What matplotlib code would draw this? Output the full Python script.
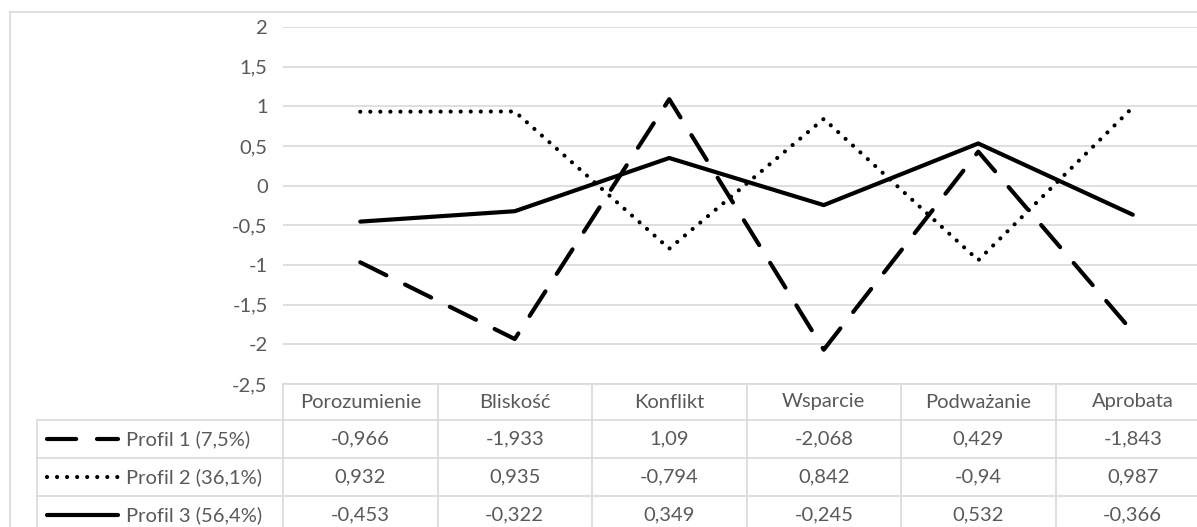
import matplotlib
matplotlib.use("Agg")
import matplotlib.pyplot as plt

categories = ["Porozumienie", "Bliskość", "Konflikt", "Wsparcie", "Podważanie", "Aprobata"]
series_names = ["Profil 1 (7,5%)", "Profil 2 (36,1%)", "Profil 3 (56,4%)"]
profil1 = [-0.966, -1.933, 1.09, -2.068, 0.429, -1.843]
profil2 = [0.932, 0.935, -0.794, 0.842, -0.94, 0.987]
profil3 = [-0.453, -0.322, 0.349, -0.245, 0.532, -0.366]
y_ticks = [2, 1.5, 1, 0.5, 0, -0.5, -1, -1.5, -2, -2.5]

series = [profil1, profil2, profil3]
grid_c = "#d9d9d9"
text_c = "#595959"
fs = 14.5
plt.rcParams["font.family"] = ["Lato", "DejaVu Sans"]

W, H = 1197, 527
fig = plt.figure(figsize=(W / 100, H / 100), dpi=100)

# pixel-space overlay for borders and data table
ov = fig.add_axes([0, 0, 1, 1])
ov.set_xlim(0, W)
ov.set_ylim(H, 0)
ov.axis("off")

# plot area in pixels
left, right, top, bottom = 283, 1210, 27, 384
ax = fig.add_axes([left / W, 1 - bottom / H, (right - left) / W, (bottom - top) / H])
ax.set_xlim(-0.5, len(categories) - 0.5)
ax.set_ylim(-2.5, 2)
ax.set_yticks(y_ticks)
ax.set_yticklabels([f"{t:g}".replace(".", ",") for t in y_ticks])
ax.tick_params(axis="y", length=0, pad=11, labelsize=fs, labelcolor=text_c)
ax.set_xticks([])
ax.grid(axis="y", color=grid_c, lw=1.2)
ax.set_axisbelow(True)
for s in ax.spines.values():
    s.set_visible(False)
ax.patch.set_alpha(0)

styles = [
    dict(dashes=(7, 5), dash_capstyle="round"),
    dict(dashes=(0.01, 2.4), dash_capstyle="round"),
    dict(solid_capstyle="round"),
]
x = list(range(len(categories)))
for vals, st in zip(series, styles):
    ax.plot(x, vals, color="black", lw=3, **st)

# outer chart border (cropped on the right/bottom)
ov.plot([10, W], [12, 12], color=grid_c, lw=1.2)
ov.plot([10, 10], [12, H], color=grid_c, lw=1.2)

# data table
col_w = (right - left) / len(categories)
row_y = [384, 420, 458, 496, 534]
leg_left = 37
ov.plot([left, W], [row_y[0], row_y[0]], color=grid_c, lw=1.2)
for yy in row_y[1:]:
    ov.plot([leg_left, W], [yy, yy], color=grid_c, lw=1.2)
ov.plot([leg_left, leg_left], [row_y[1], H], color=grid_c, lw=1.2)
for i in range(len(categories) + 1):
    xx = left + i * col_w
    ov.plot([xx, xx], [row_y[0], H], color=grid_c, lw=1.2)

for i, c in enumerate(categories):
    ov.text(left + (i + 0.5) * col_w, (row_y[0] + row_y[1]) / 2, c,
            ha="center", va="center", fontsize=fs, color=text_c)

for r, (name, vals, st) in enumerate(zip(series_names, series, styles)):
    yc = (row_y[r + 1] + row_y[r + 2]) / 2
    ov.plot([47, 118], [yc, yc], color="black", lw=3, **st)
    ov.text(126, yc, name, ha="left", va="center", fontsize=fs, color=text_c)
    for i, v in enumerate(vals):
        ov.text(left + (i + 0.5) * col_w, yc, f"{v:g}".replace(".", ","),
                ha="center", va="center", fontsize=fs, color=text_c)

fig.savefig("out.png", dpi=100)
